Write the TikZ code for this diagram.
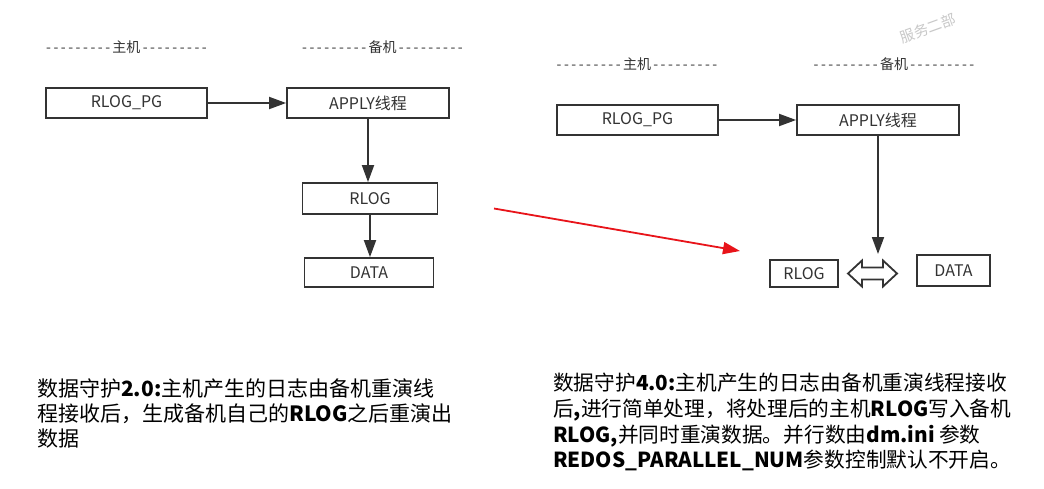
\documentclass[tikz,border=0pt]{standalone}
\usepackage{fontspec}
\setmainfont{Noto Sans CJK SC}[Ligatures=TeXOff]
\usetikzlibrary{arrows.meta}
\definecolor{ink}{HTML}{333333}
\definecolor{wm}{HTML}{C8C8C8}
\definecolor{redarr}{HTML}{E8141A}
\newcommand\myDashRun{\makebox[64pt][s]{-\hfill-\hfill-\hfill-\hfill-\hfill-\hfill-\hfill-\hfill-}}
\begin{document}
\begin{tikzpicture}[x=1pt,y=-1pt,
  box/.style={draw=ink, line width=1.8pt, inner sep=0pt, text=ink, font=\fontsize{16}{18}\selectfont},
  conn/.style={draw=ink, line width=1.8pt, -{Triangle[length=17pt,width=12pt]}},
  hdr/.style={text=ink, font=\fontsize{14}{16}\selectfont, inner sep=0pt},
  para/.style={anchor=base west, align=left, inner sep=0pt, text=black}]
\useasboundingbox (0,0) rectangle (1044,488);
\fill[white] (0,0) rectangle (1044,488);

% ---------- left diagram ----------
\node[hdr] (h1) at (126.5,47) {\myDashRun\,主机\,\myDashRun};
\node[hdr] (h2) at (382.5,47) {\myDashRun\,备机\,\myDashRun};
\node[box, minimum width=161pt, minimum height=30pt] (pg1) at (126.5,103) {RLOG\_PG};
\node[box, minimum width=162pt, minimum height=30pt] (ap1) at (368,103) {APPLY线程};
\node[box, minimum width=135pt, minimum height=31pt] (rl1) at (370,198.5) {RLOG};
\node[box, minimum width=129pt, minimum height=29pt] (da1) at (369,272.5) {DATA};
\draw[conn] (pg1.east) -- (ap1.west);
\draw[conn] (ap1.south) -- (ap1.south |- rl1.north);
\draw[conn] (rl1.south) -- (rl1.south |- da1.north);

% ---------- right diagram ----------
\node[hdr] (h3) at (637,64) {\myDashRun\,主机\,\myDashRun};
\node[hdr] (h4) at (894,64) {\myDashRun\,备机\,\myDashRun};
\node[box, minimum width=161pt, minimum height=30pt] (pg2) at (637.5,120) {RLOG\_PG};
\node[box, minimum width=162pt, minimum height=30pt] (ap2) at (878,120) {APPLY线程};
\node[box, minimum width=68pt, minimum height=27pt] (rl2) at (804,273.5) {RLOG};
\node[box, minimum width=73pt, minimum height=31pt] (da2) at (953.5,270.5) {DATA};
\draw[conn] (pg2.east) -- (ap2.west);
\coordinate (apend) at (878,254);
\draw[conn] (ap2.south) -- (apend);
\coordinate (dbl) at (872.5,273.5);
\draw[ink, line width=1.8pt, fill=white, line join=miter]
  (dbl) ++(-24.5,0) -- ++(14,-13) -- ++(0,7) -- ++(21,0) -- ++(0,-7)
  -- ++(14,13) -- ++(-14,13) -- ++(0,-7) -- ++(-21,0) -- ++(0,7) -- cycle;

% ---------- red arrow ----------
\coordinate (ra1) at (494,208.5);
\coordinate (ra2) at (740,251);
\draw[redarr, line width=1.8pt, -{Triangle[length=17pt,width=12pt]}] (ra1) -- (ra2);

% ---------- watermark ----------
\node[text=wm, rotate=20, inner sep=0pt, font=\fontsize{14.5}{15}\selectfont] (wmk) at (928,28) {服务二部};

% ---------- descriptions (anchored at the baseline of the last line) ----------
\node[para, font=\fontsize{21}{25}\selectfont] (t1) at (37,446)
  {数据守护\textbf{2.0:}主机产生的日志由备机重演线\\程接收后，生成备机自己的\textbf{RLOG}之后重演出\\数据};
\node[para, font=\fontsize{20.7}{25.7}\selectfont] (t2) at (553,467.7)
  {数据守护\textbf{4.0:}主机产生的日志由备机重演线程接收\\后\textbf{,}进行简单处理，将处理后的主机\textbf{RLOG}写入备机\\\textbf{RLOG,}并同时重演数据。并行数由\textbf{dm.ini} 参数\\\textbf{REDOS\_PARALLEL\_NUM}参数控制默认不开启。};
\end{tikzpicture}
\end{document}
